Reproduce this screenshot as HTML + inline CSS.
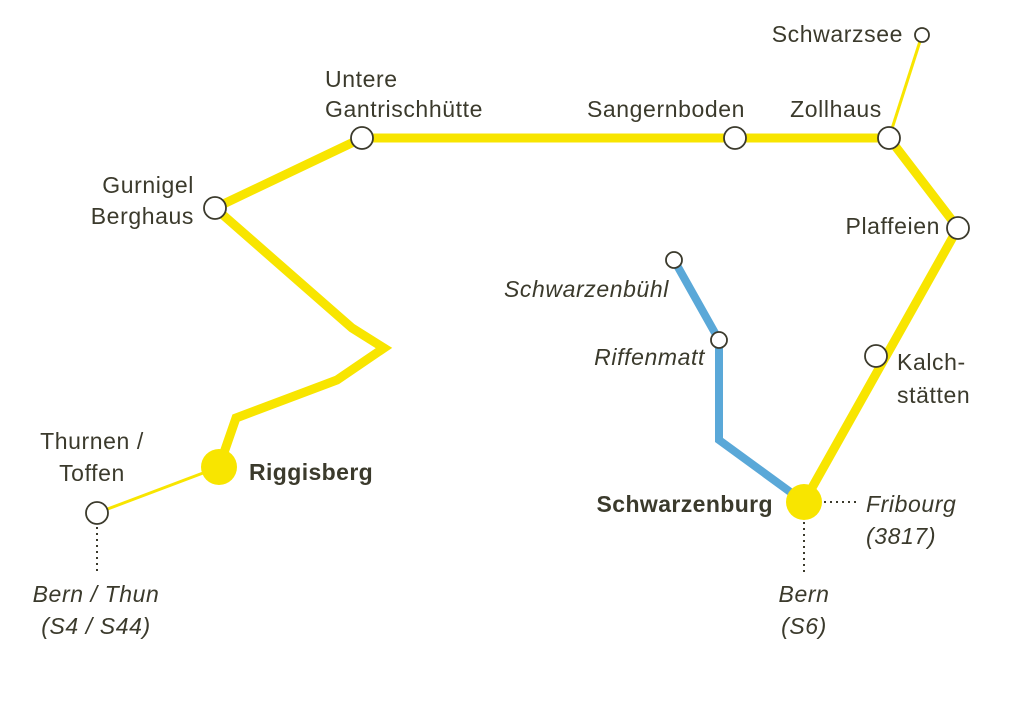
<!DOCTYPE html>
<html><head><meta charset="utf-8"><style>
html,body{margin:0;padding:0;background:#fff;}
svg{display:block}
text{font-family:"Liberation Sans",sans-serif;font-size:23px;letter-spacing:0.6px;fill:#3b3a2c;}
.i{font-style:italic}
.b{font-weight:bold;letter-spacing:0.4px}
</style></head><body>
<svg width="1024" height="706" viewBox="0 0 1024 706">
<g fill="none" stroke-linejoin="miter" stroke-linecap="butt">
<polyline points="215,208 362,138 889,138 958,228 804,502" stroke="#f8e500" stroke-width="9"/>
<polyline points="215,208 352,328 384,348 337,380 236,418 219,467" stroke="#f8e500" stroke-width="9"/>
<line x1="889" y1="138" x2="922" y2="35" stroke="#f8e500" stroke-width="3"/>
<line x1="219" y1="467" x2="97" y2="513" stroke="#f8e500" stroke-width="3"/>
<polyline points="674,260 719,340 719,440 804,502" stroke="#5aa8d8" stroke-width="8"/>
<g stroke="#3b3a2c" stroke-width="2" stroke-dasharray="2,4">
<line x1="97" y1="527" x2="97" y2="575"/>
<line x1="804" y1="522" x2="804" y2="575"/>
<line x1="824" y1="502" x2="860" y2="502"/>
</g>
</g>
<g fill="#fff" stroke="#3b3a2c" stroke-width="1.8">
<circle cx="922" cy="35" r="7"/>
<circle cx="889" cy="138" r="11"/>
<circle cx="735" cy="138" r="11"/>
<circle cx="362" cy="138" r="11"/>
<circle cx="215" cy="208" r="11"/>
<circle cx="958" cy="228" r="11"/>
<circle cx="876" cy="356" r="11"/>
<circle cx="97" cy="513" r="11"/>
<circle cx="674" cy="260" r="8"/>
<circle cx="719" cy="340" r="8"/>
</g>
<circle cx="804" cy="502" r="18" fill="#f8e500"/>
<circle cx="219" cy="467" r="18" fill="#f8e500"/>
<text x="903" y="42" text-anchor="end">Schwarzsee</text>
<text x="836" y="117" text-anchor="middle">Zollhaus</text>
<text x="666" y="117" text-anchor="middle">Sangernboden</text>
<text x="325" y="87">Untere</text>
<text x="325" y="117">Gantrischhütte</text>
<text x="194" y="193" text-anchor="end">Gurnigel</text>
<text x="194" y="224" text-anchor="end">Berghaus</text>
<text x="940" y="234" text-anchor="end">Plaffeien</text>
<text x="897" y="370">Kalch-</text>
<text x="897" y="403">stätten</text>
<text x="669" y="297" text-anchor="end" class="i">Schwarzenbühl</text>
<text x="705" y="365" text-anchor="end" class="i">Riffenmatt</text>
<text x="773" y="512" text-anchor="end" class="b">Schwarzenburg</text>
<text x="249" y="480" class="b">Riggisberg</text>
<text x="92" y="449" text-anchor="middle">Thurnen /</text>
<text x="92" y="481" text-anchor="middle">Toffen</text>
<text x="96" y="602" text-anchor="middle" class="i">Bern / Thun</text>
<text x="96" y="634" text-anchor="middle" class="i">(S4 / S44)</text>
<text x="804" y="602" text-anchor="middle" class="i">Bern</text>
<text x="804" y="634" text-anchor="middle" class="i">(S6)</text>
<text x="866" y="512" class="i">Fribourg</text>
<text x="866" y="544" class="i">(3817)</text>
</svg>
</body></html>
